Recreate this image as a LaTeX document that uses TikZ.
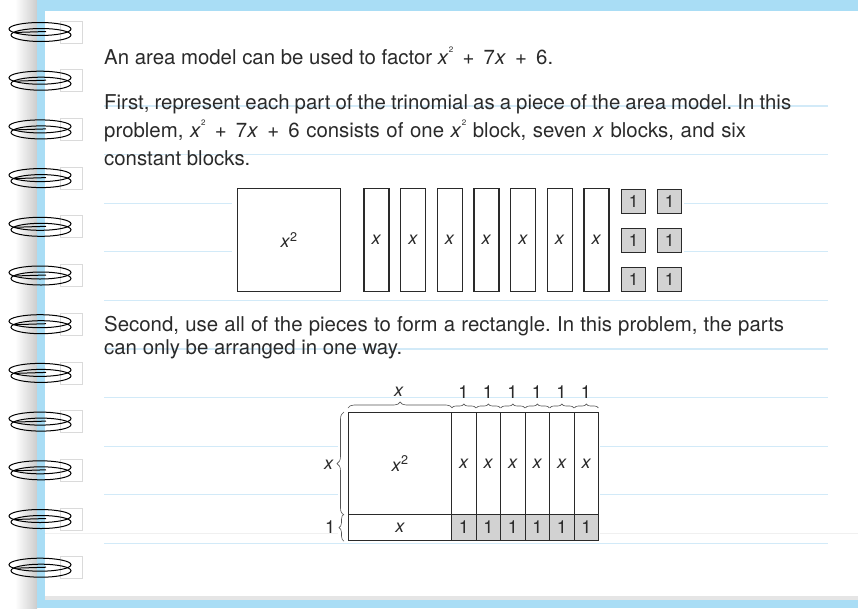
\documentclass[tikz,border=0pt]{standalone}
\usepackage{fontspec}
\setmainfont{TeX Gyre Heros}
\usetikzlibrary{decorations.pathreplacing}
\definecolor{bandblue}{HTML}{A9DDF5}
\definecolor{ruleblue}{HTML}{D2EAF8}
\definecolor{ink}{HTML}{2A2A2A}
\definecolor{unitgray}{HTML}{D2D2D2}
\definecolor{holegray}{HTML}{DADADA}
\frenchspacing
\newcommand\supt{\kern0.3pt\raisebox{0.55em}{\fontsize{8}{8}\selectfont 2}}
\newcommand\lx{\textit{x}}
\newcommand\pl{\hspace{0.45em}+\hspace{0.45em}}
\tikzset{
  txt/.style={anchor=base west, inner sep=0pt, text=ink, font=\fontsize{20.4}{24}\selectfont\frenchspacing},
  rulel/.style={draw=ruleblue, line width=1.2pt},
  ringline/.style={draw=black, line width=1pt},
  hole/.style={draw=holegray, line width=0.8pt},
  blk/.style={draw=ink, line width=1.2pt, fill=white, inner sep=0pt, anchor=north west, text=ink, font=\fontsize{18}{18}\selectfont},
  unitblk/.style={blk, fill=unitgray, minimum width=24pt, minimum height=24pt, font=\fontsize{17}{17}\selectfont},
  cell/.style={draw=ink, line width=1.2pt, inner sep=0pt, anchor=north west, text=ink, font=\fontsize{18}{18}\selectfont},
  lbl/.style={inner sep=0pt, text=ink, font=\fontsize{18}{18}\selectfont},
  brc/.style={draw=ink!80, line width=0.6pt, decorate, decoration={brace, amplitude=#1}},
}
\begin{document}
\begin{tikzpicture}[x=1pt,y=-1pt]
\useasboundingbox (0,0) rectangle (858,608);
\fill[white] (0,0) rectangle (858,608);
% shadow left of the page
\shade[left color=white, right color=black!20] (15,0) rectangle (37,608);
% page frame
\fill[bandblue] (37,0) rectangle (858,11);
\fill[bandblue] (37,0) rectangle (45,608);
\fill[black!10] (45,596) rectangle (858,600);
\fill[bandblue] (37,600) rectangle (858,608);
% faint line near bottom
\draw[draw=black!6, line width=0.8pt] (45,533) -- (858,533);
% ruled lines
\foreach \k in {0,...,9} {
  \draw[rulel] (104,{106+48.6*\k}) -- (828,{106+48.6*\k});
}
% the lines do not run behind the pieces
\fill[white] (232,186) rectangle (684,294);
\fill[white] (338,400) rectangle (600,541.5);
% spiral rings
\foreach \k in {0,...,11} {
  \pgfmathsetmacro\c{32+48.7*\k}
  \draw[hole] (60,\c-11) rectangle (82,\c+11);
  \draw[ringline] (40,\c-3) ellipse [x radius=31, y radius=6.5];
  \draw[ringline] (41,\c+3) ellipse [x radius=30, y radius=6.5];
  \draw[ringline] (14,\c+0.5) -- (46,\c-0.5);
}
% texts
\node[txt] (t1) at (104,64) {\makebox[449pt][s]{An area model can be used to factor \lx\supt\pl 7\lx\pl 6.}};
\node[txt] (t2) at (104,109) {\makebox[687pt][s]{First, represent each part of the trinomial as a piece of the area model. In this}};
\node[txt] (t3) at (104,137) {\makebox[642pt][s]{problem, \lx\supt\pl 7\lx\pl 6 consists of one \lx\supt{} block, seven \lx{} blocks, and six}};
\node[txt] (t4) at (104,165) {constant blocks.};
\node[txt] (t5) at (104,331) {\makebox[680pt][s]{Second, use all of the pieces to form a rectangle. In this problem, the parts}};
\node[txt] (t6) at (104,354) {can only be arranged in one way.};
% pieces
\node[blk, minimum width=103pt, minimum height=103pt] (sq) at (237,188) {\lx\textsuperscript{2}};
\foreach \i in {0,...,6} {
  \node[blk, minimum width=25pt, minimum height=103pt] (xb\i) at ({363.3+36.67*\i},188) {\lx};
}
\foreach \r/\yy in {0/188.5,1/227.5,2/266.5} {
  \node[unitblk] (ua\r) at (621,\yy) {1};
  \node[unitblk] (ub\r) at (657,\yy) {1};
}
% area model
\node[cell, minimum width=103pt, minimum height=102pt] (big) at (348,412) {\lx\textsuperscript{2}};
\node[cell, minimum width=103pt, minimum height=26pt] (bx) at (348,514) {\lx};
\foreach \i in {0,...,5} {
  \node[cell, minimum width=24.5pt, minimum height=102pt] (cx\i) at ({451+24.5*\i},412) {\lx};
  \node[cell, fill=unitgray, minimum width=24.5pt, minimum height=26pt] (cu\i) at ({451+24.5*\i},514) {1};
}
% braces
\draw[brc=6] (big.north west) ++(0,-4) coordinate (bt1) -- (big.north east |- bt1) coordinate (bt2);
\node[lbl] (tx) at (399,392) {\lx};
\foreach \i in {0,...,5} {
  \draw[brc=4] (cx\i.north west) ++(0.8,-4) coordinate (ut\i) -- ([xshift=-0.8pt]cx\i.north east |- ut\i) coordinate (uu\i);
  \node[lbl] (tu\i) at ({463.25+24.5*\i},392) {1};
}
\draw[brc=7] (big.south west) ++(-4,0) coordinate (lb1) -- (big.north west -| lb1) coordinate (lb2);
\node[lbl] (lx) at (329,465) {\lx};
\draw[brc=5] (bx.south west) ++(-4,0) coordinate (lc1) -- (bx.north west -| lc1) coordinate (lc2);
\node[lbl] (l1) at (330,527) {1};
\end{tikzpicture}
\end{document}
